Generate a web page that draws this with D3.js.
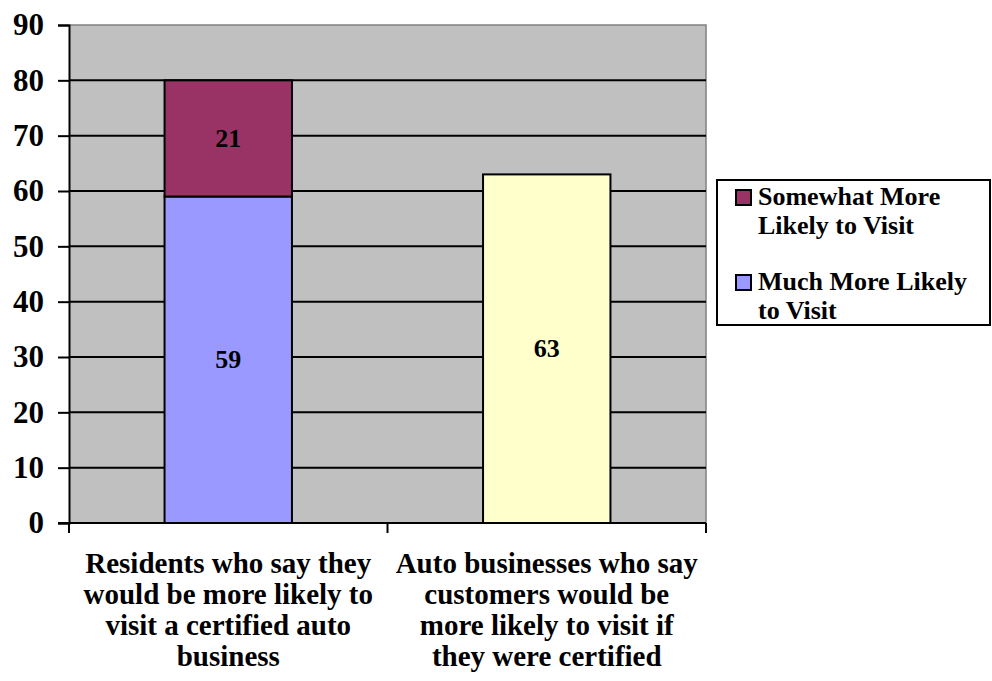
<!DOCTYPE html>
<html>
<head>
<meta charset="utf-8">
<script src="https://cdn.jsdelivr.net/npm/d3@7"></script>
<style>
  html, body { margin: 0; padding: 0; background: #fff; }
  svg { display: block; }
  text { font-family: "Liberation Serif", "Times New Roman", serif; font-weight: bold; fill: #000; }
</style>
</head>
<body>
<svg id="chart" width="992" height="681"></svg>
<script>
// ---- data ----
const categories = [
  ["Residents who say they", "would be more likely to", "visit a certified auto", "business"],
  ["Auto businesses who say", "customers would be", "more likely to visit if", "they were certified"]
];
const seriesNames = ["Much More Likely to Visit", "Somewhat More Likely to Visit"];
const muchMore = [59, 63];
const somewhatMore = [21, 0];
const yTicks = [0, 10, 20, 30, 40, 50, 60, 70, 80, 90];
const seriesColors = ["#9999FF", "#993366"];
const pointColors = [["#9999FF", "#FFFFCC"], ["#993366", "#993366"]];

// ---- layout ----
const svg = d3.select("#chart");
const plot = { left: 69, right: 706, top: 25, bottom: 523 };

const x = d3.scaleBand().domain(d3.range(categories.length)).range([plot.left, plot.right]).padding(0);
const y = d3.scaleLinear().domain([0, 90]).range([plot.bottom, plot.top]);
const barW = x.bandwidth() * 0.4;

// plot area background
svg.append("rect")
  .attr("x", plot.left).attr("y", plot.top)
  .attr("width", plot.right - plot.left).attr("height", plot.bottom - plot.top)
  .attr("fill", "#C0C0C0");
// gray top/right frame
svg.append("path")
  .attr("d", `M${plot.left},${plot.top}H${plot.right}V${plot.bottom}`)
  .attr("fill", "none").attr("stroke", "#808080").attr("stroke-width", 1.5);

// gridlines
svg.append("g").selectAll("line")
  .data(yTicks.filter(d => d > 0 && d < 90))
  .join("line")
  .attr("x1", plot.left).attr("x2", plot.right)
  .attr("y1", d => y(d)).attr("y2", d => y(d))
  .attr("stroke", "#000").attr("stroke-width", 2);

// stacked data
const stackData = categories.map((c, i) => ({ i, much: muchMore[i], some: somewhatMore[i] }));
const stack = d3.stack().keys(["much", "some"])(stackData);

stack.forEach((layer, si) => {
  svg.append("g").selectAll("rect")
    .data(layer.filter(d => d[1] - d[0] > 0))
    .join("rect")
    .attr("x", d => x(d.data.i) + (x.bandwidth() - barW) / 2)
    .attr("y", d => y(d[1]))
    .attr("width", barW)
    .attr("height", d => y(d[0]) - y(d[1]))
    .attr("fill", d => pointColors[si][d.data.i])
    .attr("stroke", "#000").attr("stroke-width", 2);
  svg.append("g").selectAll("text")
    .data(layer.filter(d => d[1] - d[0] > 0))
    .join("text")
    .attr("x", d => x(d.data.i) + x.bandwidth() / 2)
    .attr("y", d => y((d[0] + d[1]) / 2))
    .attr("text-anchor", "middle")
    .attr("dominant-baseline", "central")
    .attr("font-size", 26)
    .text(d => d[1] - d[0]);
});

// y axis
const yAxis = svg.append("g")
  .attr("transform", `translate(${plot.left},0)`)
  .call(d3.axisLeft(y).tickValues(yTicks).tickSize(11).tickPadding(14));
yAxis.select(".domain").attr("stroke", "#000").attr("stroke-width", 2);
yAxis.selectAll(".tick line").attr("stroke", "#000").attr("stroke-width", 2);
yAxis.selectAll(".tick text")
  .attr("font-family", "Liberation Serif").attr("font-weight", "bold")
  .attr("font-size", 31).attr("fill", "#000");

// x axis
const xAxisG = svg.append("g").attr("transform", `translate(0,${plot.bottom})`);
xAxisG.append("line")
  .attr("x1", plot.left - 11).attr("x2", plot.right)
  .attr("stroke", "#000").attr("stroke-width", 2);
const xTickPos = d3.range(categories.length + 1).map(i => i < categories.length ? x(i) : x(i - 1) + x.bandwidth());
xAxisG.selectAll("line.tk")
  .data(xTickPos)
  .join("line").attr("class", "tk")
  .attr("x1", d => d).attr("x2", d => d)
  .attr("y1", 0).attr("y2", 10)
  .attr("stroke", "#000").attr("stroke-width", 2);

categories.forEach((lines, i) => {
  const t = svg.append("text")
    .attr("text-anchor", "middle")
    .attr("font-size", 29);
  lines.forEach((ln, k) => {
    t.append("tspan")
      .attr("x", x(i) + x.bandwidth() / 2)
      .attr("y", 573 + k * 31)
      .text(ln);
  });
});

// legend
const legend = svg.append("g");
legend.append("rect")
  .attr("x", 717).attr("y", 180).attr("width", 273).attr("height", 145)
  .attr("fill", "#fff").attr("stroke", "#000").attr("stroke-width", 2);
const legendItems = [
  { name: ["Somewhat More", "Likely to Visit"], color: seriesColors[1], y: 190 },
  { name: ["Much More Likely", "to Visit"], color: seriesColors[0], y: 275 }
];
legendItems.forEach(it => {
  legend.append("rect")
    .attr("x", 736).attr("y", it.y).attr("width", 15).attr("height", 15)
    .attr("fill", it.color).attr("stroke", "#000").attr("stroke-width", 2);
  const t = legend.append("text").attr("font-size", 26);
  it.name.forEach((ln, k) => {
    t.append("tspan").attr("x", 758).attr("y", it.y + 15 + k * 29).text(ln);
  });
});
</script>
</body>
</html>
